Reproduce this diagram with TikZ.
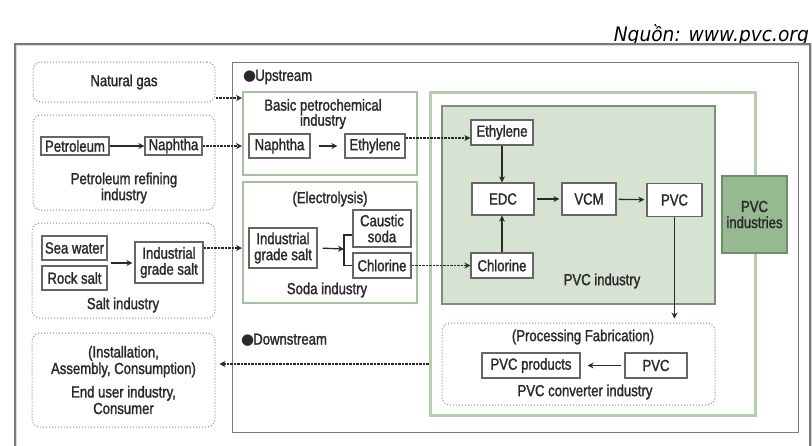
\documentclass[tikz,border=0pt]{standalone}
\usepackage{fontspec}
\setmainfont{Liberation Sans}[FakeStretch=0.82,FakeBold=1.5]
\newfontfamily\srcfont{DejaVu Sans}[FakeStretch=0.93]
\newfontfamily\symf{DejaVu Sans}
\usetikzlibrary{arrows.meta,calc}
\definecolor{txt}{HTML}{2A2A2A}
\definecolor{framegray}{HTML}{7A7A7A}
\definecolor{boxgray}{HTML}{666666}
\definecolor{dotgray}{HTML}{8A8A8A}
\definecolor{gframe}{HTML}{B6CDB2}
\definecolor{gbord}{HTML}{A6C0A2}
\definecolor{pvcfill}{HTML}{D6E3D3}
\definecolor{pvcbord}{HTML}{7E8E7C}
\definecolor{darkg}{HTML}{96B992}
\definecolor{darkgb}{HTML}{6F8F6C}
\tikzset{
  wbox/.style={draw=boxgray, line width=1.2pt, fill=white, inner sep=0pt, align=center, text=txt},
  rbox/.style={draw=dotgray, dotted, line width=1pt, rounded corners=8pt, fill=white, align=center, text=txt, inner sep=0pt},
  gbox/.style={draw=gbord, line width=2pt, fill=white, inner sep=0pt},
  lab/.style={text=txt, align=center, inner sep=0pt},
  arr/.style={draw=txt, line width=1.3pt, -{Stealth[length=6pt,width=6pt]}},
  darr/.style={draw=txt, line width=1.8pt, dash pattern=on 2.5pt off 1pt, -{Stealth[length=6pt,width=6pt]}},
  frame/.style={draw=framegray, line width=1pt, inner sep=0pt}
}
\begin{document}
\begin{tikzpicture}[x=1pt,y=-1pt,font=\fontsize{16}{16}\selectfont]
\useasboundingbox (0,0) rectangle (812,445);
\fill[white] (0,0) rectangle (812,445);
% source
\node[anchor=east, text=black, inner sep=0pt, font=\srcfont\itshape\fontsize{20}{22}\selectfont] (src) at (809,35) {Nguồn: www.pvc.org};
% outer frame (runs past the bottom edge)
\draw[draw=black!15, line width=3pt] (15,450) -- (15,44) -- (810,44) -- (810,450);
\draw[draw=framegray, line width=1.4pt] (15,450) -- (15,44) -- (810,44) -- (810,450);
% frames
\node[frame, minimum width=566pt, minimum height=370pt] (upstream) at (515,247) {};
\node[draw=gframe, line width=3pt, minimum width=325pt, minimum height=323pt, inner sep=0pt] (greenfr) at (592.5,253.5) {};
\node[draw=pvcbord, fill=pvcfill, line width=1.2pt, minimum width=273pt, minimum height=198pt, inner sep=0pt] (pvcind) at (578.5,205) {};
\node[draw=darkgb, fill=darkg, line width=1.2pt, minimum width=65pt, minimum height=77pt, inner sep=0pt, align=center, text=txt] (pvcinds) at (754.5,214.5) {PVC\\industries};
% left column
\node[rbox, minimum width=182pt, minimum height=40pt] (natgas) at (124,82) {Natural gas};
\node[rbox, minimum width=182pt, minimum height=95pt] (petref) at (124,162.5) {};
\node[wbox, minimum width=68pt, minimum height=18pt] (petroleum) at (75,146) {Petroleum};
\node[wbox, minimum width=57pt, minimum height=18pt] (naphtha1) at (173.5,146) {Naphtha};
\node[lab] (petreflbl) at (124,188) {Petroleum refining\\industry};
\node[rbox, minimum width=183pt, minimum height=95pt] (salt) at (123.5,270.5) {};
\node[wbox, minimum width=65pt, minimum height=24pt] (seawater) at (74.5,248) {Sea water};
\node[wbox, minimum width=65pt, minimum height=24pt] (rocksalt) at (74.5,278) {Rock salt};
\node[wbox, minimum width=68pt, minimum height=41pt] (indsalt1) at (169,262.5) {Industrial\\grade salt};
\node[lab] (saltlbl) at (123,305) {Salt industry};
\node[rbox, minimum width=183pt, minimum height=94pt, font=\fontsize{16}{16.5}\selectfont] (enduser) at (123.5,380) {(Installation,\\Assembly, Consumption)\\[7pt]End user industry,\\Consumer};
% upstream middle
\node[lab, anchor=west] (uplbl) at (243,77) {{\symf\fontsize{15}{15}\selectfont ●}\kern-1pt Upstream};
\node[gbox, minimum width=174pt, minimum height=83pt] (basic) at (330,133.5) {};
\node[lab, font=\fontsize{16}{15}\selectfont] (basiclbl) at (323,114) {Basic petrochemical\\industry};
\node[wbox, minimum width=61pt, minimum height=24pt] (naphtha2) at (279.5,146) {Naphtha};
\node[wbox, minimum width=60pt, minimum height=24pt] (ethylene1) at (375,146) {Ethylene};
\node[gbox, minimum width=174pt, minimum height=121pt] (soda) at (330,242.5) {};
\node[lab] (electlbl) at (330,199) {(Electrolysis)};
\node[wbox, minimum width=68pt, minimum height=40pt] (indsalt2) at (283,248) {Industrial\\grade salt};
\node[wbox, minimum width=58pt, minimum height=37pt] (caustic) at (382,228.5) {Caustic\\soda};
\node[wbox, minimum width=58pt, minimum height=25pt] (chlorine1) at (382,265.5) {Chlorine};
\node[lab] (sodalbl) at (327,290) {Soda industry};
\node[lab, anchor=west] (downlbl) at (241,340) {{\symf\fontsize{15}{15}\selectfont ●}\kern-1pt Downstream};
% PVC industry
\node[wbox, minimum width=62pt, minimum height=25pt] (ethylene2) at (502,132.5) {Ethylene};
\node[wbox, minimum width=62pt, minimum height=32pt] (edc) at (503,199) {EDC};
\node[wbox, minimum width=54pt, minimum height=32pt] (vcm) at (589,199) {VCM};
\node[wbox, minimum width=55pt, minimum height=33pt] (pvc1) at (674.5,200) {PVC};
\node[wbox, minimum width=62pt, minimum height=25pt] (chlorine2) at (502,265.5) {Chlorine};
\node[lab] (pvcindlbl) at (602,281) {PVC industry};
% converter
\node[rbox, minimum width=273pt, minimum height=82pt] (converter) at (578.5,364) {};
\node[lab] (proclbl) at (583,337) {(Processing Fabrication)};
\node[wbox, minimum width=98pt, minimum height=25pt] (pvcprod) at (531,365.5) {PVC products};
\node[wbox, minimum width=62pt, minimum height=25pt] (pvc2) at (656,365.5) {PVC};
\node[lab] (convlbl) at (585,392) {PVC converter industry};
% connectors
\draw[arr] (petroleum) -- (naphtha1);
\draw[darr] ([yshift=-16pt]natgas.east) -- ([yshift=-16pt]natgas.east -| basic.west);
\draw[darr] (naphtha1.east) -- (naphtha1.east -| basic.west);
\coordinate (swrs) at ($(seawater.south east)!0.5!(rocksalt.north east)$);
\draw[arr, shorten <=3pt, shorten >=2pt] (swrs) -- (swrs -| indsalt1.west);
\draw[darr] (indsalt1.east |- indsalt2) -- (indsalt2 -| soda.west);
\draw[arr, shorten <=8pt, shorten >=7pt] (naphtha2) -- (ethylene1);
\draw[darr] ([yshift=8pt]ethylene1.east) -- ([yshift=-5.5pt]ethylene2.west);
\coordinate (brk) at (344,249);
\draw[arr, shorten <=5pt] (indsalt2.east) -- (brk);
\draw[draw=txt, line width=1.2pt] ([yshift=-6.5pt]caustic.west) -| (brk |- chlorine1.west) -- (chlorine1.west);
\draw[darr] (chlorine1.east) -- (chlorine2.west);
\draw[arr] (ethylene2.south) -- (ethylene2.south |- edc.north);
\draw[arr] (chlorine2.north) -- (chlorine2.north |- edc.south);
\draw[arr, shorten <=2pt, shorten >=2pt] (edc) -- (vcm);
\draw[arr, shorten <=2pt, shorten >=2pt] (vcm) -- (pvc1);
\draw[arr, shorten >=4pt] (pvc1.south) -- (pvc1.south |- converter.north);
\draw[arr, shorten <=3pt, shorten >=7pt] (pvc2) -- (pvcprod);
\draw[darr, shorten >=4pt] (greenfr.west |- converter) -- (enduser.east |- converter);
\end{tikzpicture}
\end{document}
